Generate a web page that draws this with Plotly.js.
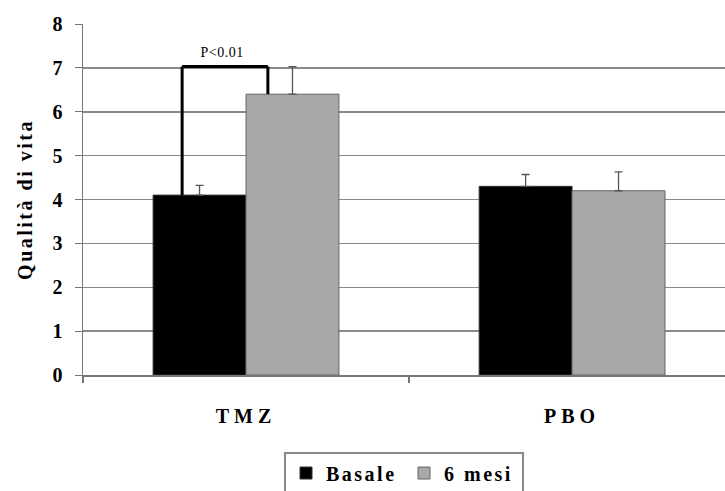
<!DOCTYPE html>
<html>
<head>
<meta charset="utf-8">
<script src="https://cdn.plot.ly/plotly-3.0.1.min.js"></script>
<style>
html,body{margin:0;padding:0;background:#fff;}
#chart .xtick text{letter-spacing:5px;}
#chart .ytitle{letter-spacing:2.5px;}
#chart .legendtext{letter-spacing:2.5px;}
#chart .annotation-text{letter-spacing:0.5px;}
</style>
</head>
<body>
<div id="chart" style="width:725px;height:491px;"></div>
<script>
const categories = ["TMZ", "PBO"];
const basale = [4.1, 4.3];
const basaleErr = [0.22, 0.27];
const seiMesi = [6.4, 4.2];
const seiMesiErr = [0.63, 0.43];
const yTicks = [0, 1, 2, 3, 4, 5, 6, 7, 8];
const pText = "P<0.01";
const pTop = 7.03;

const serif = "Liberation Serif, Times New Roman, serif";

const traces = [
  {
    type: "bar", name: "Basale", x: categories, y: basale,
    marker: {color: "#000000", line: {color: "#333", width: 1}},
    error_y: {type: "data", array: basaleErr, symmetric: false, arrayminus: [0, 0], color: "#555", thickness: 1.3, width: 4}
  },
  {
    type: "bar", name: "6 mesi", x: categories, y: seiMesi,
    marker: {color: "#a8a8a8", line: {color: "#666", width: 1}},
    error_y: {type: "data", array: seiMesiErr, symmetric: false, arrayminus: [0, 0], color: "#555", thickness: 1.3, width: 4}
  },
  {
    type: "scatter", x: [-0.5, 1.469], y: [0, 0], xaxis: "x2", yaxis: "y",
    mode: "lines", line: {width: 0, color: "rgba(0,0,0,0)"}, showlegend: false, hoverinfo: "skip"
  }
];

const layout = {
  width: 725, height: 491,
  margin: {l: 83, r: 0, t: 24, b: 116, autoexpand: false},
  paper_bgcolor: "#fff", plot_bgcolor: "#fff",
  barmode: "group", bargap: 0.43, bargroupgap: 0,
  showlegend: true,
  legend: {
    orientation: "h", x: 0.5, xanchor: "center", y: -0.218, yanchor: "top",
    bordercolor: "#888", borderwidth: 2,
    font: {family: serif, size: 20, color: "#000", weight: "bold"},
    itemwidth: 30, entrywidth: 73, entrywidthmode: "pixels", traceorder: "normal"
  },
  xaxis: {
    type: "category", range: [-0.5, 1.469],
    ticks: "", ticklabelstandoff: 22,
    showline: true, linecolor: "#777", linewidth: 1.5,
    showgrid: false,
    tickfont: {family: serif, size: 20, color: "#000", weight: "bold"}
  },
  xaxis2: {
    overlaying: "x", range: [-0.5, 1.469], tickvals: [-0.5, 0.5],
    ticks: "outside", ticklen: 7, tickcolor: "#777", tickwidth: 1.5,
    showticklabels: false, showgrid: false, zeroline: false, showline: false
  },
  yaxis: {
    range: [0, 8], tickvals: yTicks, ticks: "outside", ticklen: 7, tickcolor: "#777",
    showline: true, linecolor: "#777", linewidth: 1.5,
    showgrid: true, gridcolor: "#8a8a8a", gridwidth: 1.5,
    zeroline: false, ticklabelstandoff: 8,
    tickfont: {family: serif, size: 20, color: "#000", weight: "bold"},
    title: {text: "Qualità di vita", font: {family: serif, size: 20, color: "#000", weight: "bold"}, standoff: 14}
  },
  shapes: [
    {type: "line", xref: "x", yref: "y", x0: -0.196, x1: -0.196, y0: basale[0], y1: pTop, line: {color: "#000", width: 3}},
    {type: "line", xref: "x", yref: "y", x0: -0.196, x1: 0.067, y0: pTop, y1: pTop, line: {color: "#000", width: 3}},
    {type: "line", xref: "x", yref: "y", x0: 0.067, x1: 0.067, y0: pTop, y1: seiMesi[0], line: {color: "#000", width: 3}}
  ],
  annotations: [
    {xref: "x", yref: "y", x: -0.074, y: pTop, yshift: 5, text: pText, showarrow: false, yanchor: "bottom",
     font: {family: serif, size: 14, color: "#000"}}
  ]
};

Plotly.newPlot("chart", traces, layout, {displayModeBar: false, staticPlot: true});
</script>
</body>
</html>
